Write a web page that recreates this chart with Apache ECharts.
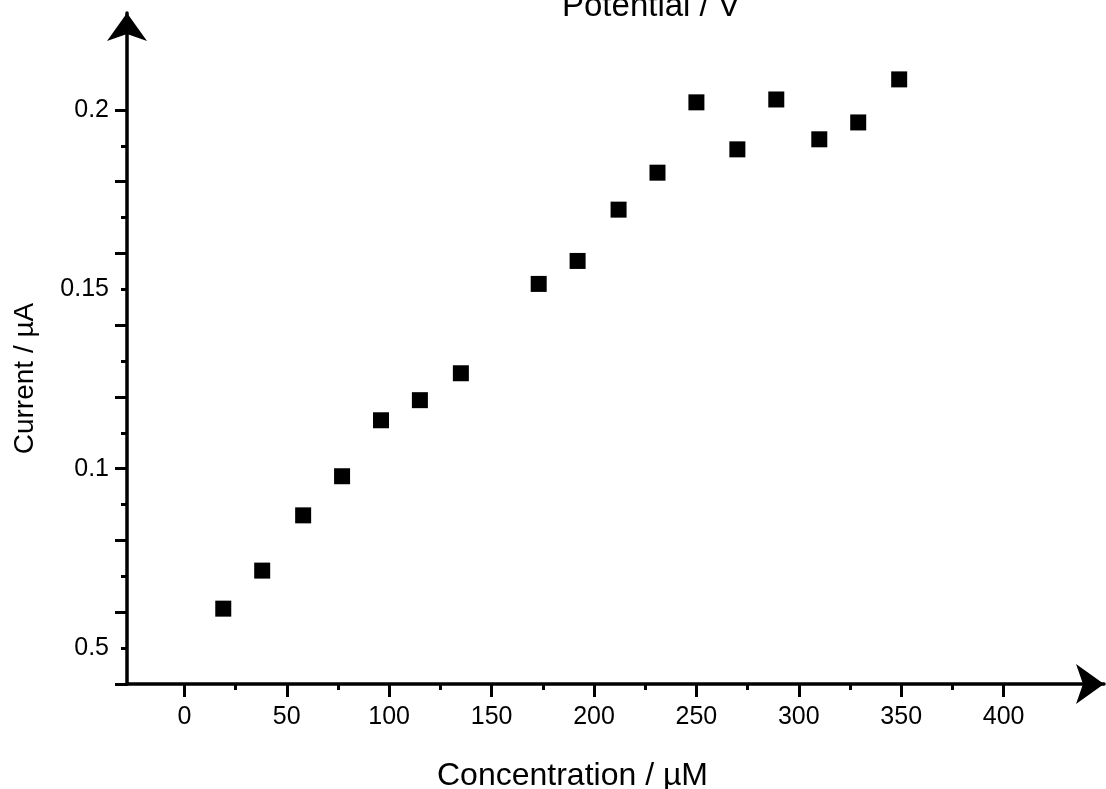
<!DOCTYPE html>
<html>
<head>
<meta charset="utf-8">
<script src="https://cdn.jsdelivr.net/npm/echarts@6/dist/echarts.min.js"></script>
<style>
html,body{margin:0;padding:0;background:#fff;}
#chart{width:1106px;height:789px;}
</style>
</head>
<body>
<div id="chart"></div>
<script>
// Data
const concentration = [19, 38, 58, 77, 96, 115, 135, 173, 192, 212, 231, 250, 270, 289, 310, 329, 349];
const current = [0.0610, 0.0716, 0.0870, 0.0979, 0.1135, 0.1191, 0.1266, 0.1515, 0.1579, 0.1722, 0.1825, 0.2021, 0.1890, 0.2029, 0.1918, 0.1965, 0.2085];

const xLabelValues = [0, 50, 100, 150, 200, 250, 300, 350, 400];
const xMinorTicks = [25, 75, 125, 175, 225, 275, 325, 375];
const yLabelValues = [0.05, 0.1, 0.15, 0.2];
const yLabelTexts = ['0.5', '0.1', '0.15', '0.2'];
const yMajorTicks = [0.04, 0.06, 0.08, 0.1, 0.12, 0.14, 0.16, 0.18, 0.2];
const yMinorTicks = [0.05, 0.07, 0.09, 0.11, 0.13, 0.15, 0.17, 0.19];

const titleText = 'Potential / V';
const xName = 'Concentration / \u00b5M';
const yName = 'Current / \u00b5A';

const FONT = '"Liberation Sans", Arial, sans-serif';
const BLACK = '#000';

const chart = echarts.init(document.getElementById('chart'), null, {renderer: 'canvas'});

const points = concentration.map((c, i) => [c, current[i]]);

const xMin = -28, xMax = 449;
const yMin = 0.04, yMax = 0.227;

const option = {
  backgroundColor: '#fff',
  animation: false,
  title: {
    text: titleText,
    left: 562,
    top: -10,
    padding: 0,
    textStyle: {fontFamily: FONT, fontSize: 33, fontWeight: 'normal', color: BLACK}
  },
  grid: {left: 127, right: 2, top: 13, bottom: 105, containLabel: false, outerBoundsMode: 'none'},
  xAxis: [
    {
      type: 'value', min: xMin, max: xMax, position: 'bottom',
      name: xName, nameLocation: 'middle', nameGap: 76,
      nameTextStyle: {fontFamily: FONT, fontSize: 32, color: BLACK, padding: [0, 86, 0, 0]},
      axisLine: {show: true, onZero: false, symbol: ['none', 'arrow'], symbolSize: [30, 28],
        lineStyle: {color: BLACK, width: 3.5}},
      axisTick: {show: true, inside: false, length: 13, customValues: xLabelValues,
        lineStyle: {color: BLACK, width: 3}},
      axisLabel: {show: true, customValues: xLabelValues, margin: 21,
        fontFamily: FONT, fontSize: 25, color: BLACK},
      splitLine: {show: false}
    },
    {
      type: 'value', min: xMin, max: xMax, position: 'bottom', offset: 0,
      axisLine: {show: false, onZero: false},
      axisTick: {show: true, inside: false, length: 6, customValues: xMinorTicks,
        lineStyle: {color: BLACK, width: 3}},
      axisLabel: {show: false},
      splitLine: {show: false}
    }
  ],
  yAxis: [
    {
      type: 'value', min: yMin, max: yMax, position: 'left',
      name: yName, nameLocation: 'middle', nameGap: 88, nameRotate: 90,
      nameTextStyle: {fontFamily: FONT, fontSize: 28, color: BLACK, padding: [0, 60, 0, 0]},
      axisLine: {show: true, onZero: false, symbol: ['none', 'arrow'], symbolSize: [30, 28],
        lineStyle: {color: BLACK, width: 3.5}},
      axisTick: {show: true, inside: false, length: 12, customValues: yMajorTicks,
        lineStyle: {color: BLACK, width: 3}},
      axisLabel: {show: true, customValues: yLabelValues, margin: 18,
        fontFamily: FONT, fontSize: 25, color: BLACK,
        formatter: function (v) {
          for (let i = 0; i < yLabelValues.length; i++) {
            if (Math.abs(yLabelValues[i] - v) < 1e-9) return yLabelTexts[i];
          }
          return '';
        }},
      splitLine: {show: false}
    },
    {
      type: 'value', min: yMin, max: yMax, position: 'left', offset: 0,
      axisLine: {show: false, onZero: false},
      axisTick: {show: true, inside: false, length: 6, customValues: yMinorTicks,
        lineStyle: {color: BLACK, width: 3}},
      axisLabel: {show: false},
      splitLine: {show: false}
    }
  ],
  series: [
    {
      type: 'scatter',
      xAxisIndex: 0, yAxisIndex: 0,
      data: points,
      symbol: 'rect',
      symbolSize: 16,
      itemStyle: {color: BLACK, opacity: 1}
    }
  ]
};

chart.setOption(option);
</script>
</body>
</html>
